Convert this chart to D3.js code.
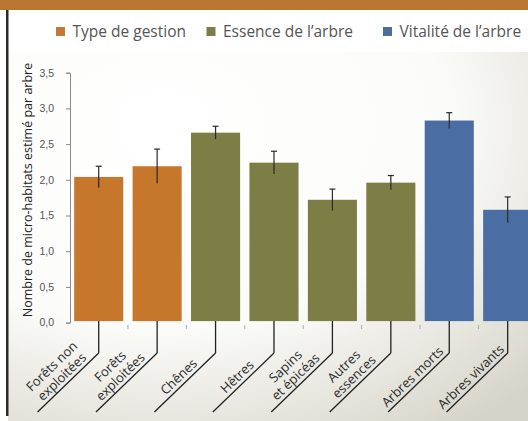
<!DOCTYPE html>
<html><head><meta charset="utf-8">
<script src="https://cdn.jsdelivr.net/npm/d3@7"></script>
<style>body{margin:0;background:#fff}svg{display:block}</style>
</head><body>
<script>
const categories = [["Forêts non","exploitées"],["Forêts","exploitées"],["Chênes"],["Hêtres"],["Sapins","et épicéas"],["Autres","essences"],["Arbres morts"],["Arbres vivants"]];
const groups = ["gestion","gestion","essence","essence","essence","essence","vitalite","vitalite"];
const values = [2.04, 2.19, 2.66, 2.24, 1.72, 1.96, 2.83, 1.58];
const errors = [0.15, 0.24, 0.09, 0.16, 0.15, 0.10, 0.11, 0.18];
const legendKeys = ["gestion","essence","vitalite"];
const legendLabels = ["Type de gestion","Essence de l’arbre","Vitalité de l’arbre"];
const yTicks = [0,0.5,1,1.5,2,2.5,3,3.5];
const yTitle = "Nombre de micro-habitats estimé par arbre";

const W=528,H=421;
const svg=d3.select("body").append("svg").attr("width",W).attr("height",H);
const defs=svg.append("defs");
const rg=defs.append("radialGradient").attr("id","bg").attr("cx","0.3").attr("cy","0.2").attr("r","1.0");
rg.append("stop").attr("offset","0").attr("stop-color","#ffffff");
rg.append("stop").attr("offset","0.55").attr("stop-color","#fbfbf9");
rg.append("stop").attr("offset","1").attr("stop-color","#d6d4c9");

svg.append("rect").attr("x",0).attr("y",0).attr("width",W).attr("height",H).attr("fill","#fff");
svg.append("rect").attr("x",8).attr("y",52).attr("width",W-8).attr("height",H-52).attr("fill","url(#bg)");
svg.append("rect").attr("x",0).attr("y",0).attr("width",W).attr("height",10).attr("fill","#b97532");
svg.append("rect").attr("x",6).attr("y",10).attr("width",2.5).attr("height",406).attr("fill","#2b2b2b");

const color=d3.scaleOrdinal().domain(legendKeys).range(["#c7772c","#7d7e45","#4a6ea3"]);
const legendColor=d3.scaleOrdinal().domain(legendKeys).range(["#c17a3a","#7c7d47","#4b6d9b"]);

// legend
const legX=[56,206.5,383];
const lg=svg.append("g").attr("font-family","'Open Sans', sans-serif").attr("font-size",15.5).attr("fill","#555");
legendKeys.forEach((k,i)=>{
  lg.append("rect").attr("x",legX[i]).attr("y",27).attr("width",9).attr("height",9).attr("fill",legendColor(k));
  lg.append("text").attr("x",legX[i]+16.5).attr("y",36.5).text(legendLabels[i]);
});

const x=d3.scaleBand().domain(d3.range(categories.length)).range([69.5,536.9]).paddingInner(0.16).paddingOuter(0.08);
const y=d3.scaleLinear().domain([0,3.5]).range([322.6,72.7]);

// y axis
const ya=svg.append("g").attr("transform","translate(70,0)")
  .call(d3.axisLeft(y).tickValues(yTicks).tickSize(4).tickPadding(12).tickFormat(d=>d3.format(".1f")(d).replace(".",",")));
ya.select(".domain").attr("stroke","#8a8a8a");
ya.selectAll(".tick line").attr("stroke","#8a8a8a");
ya.selectAll("text").attr("font-family","'Liberation Sans', Arial, sans-serif").attr("font-size",10.5).attr("fill","#555");

svg.append("text").attr("transform","translate(31.5,190) rotate(-90)").attr("text-anchor","middle")
  .attr("font-family","'Open Sans', sans-serif").attr("font-size",12.5).attr("font-weight",500).attr("fill","#222").text(yTitle);

// band boundary ticks
const bounds=d3.range(1,categories.length).map(i=>x(i)-x.step()*x.paddingInner()/2);
svg.append("g").selectAll("line").data(bounds).join("line")
  .attr("x1",d=>d).attr("x2",d=>d).attr("y1",325).attr("y2",329).attr("stroke","#aaa").attr("stroke-width",1);

// bars
svg.append("g").selectAll("rect").data(values).join("rect")
  .attr("x",(d,i)=>x(i)).attr("width",x.bandwidth())
  .attr("y",d=>y(d)).attr("height",d=>y(0)-y(d)-1.5)
  .attr("fill",(d,i)=>color(groups[i]));

// error bars
const eg=svg.append("g").attr("stroke","#2a2a2a").attr("stroke-width",1.2);
values.forEach((v,i)=>{
  const cx=x(i)+x.bandwidth()/2;
  eg.append("line").attr("x1",cx).attr("x2",cx).attr("y1",y(v+errors[i])).attr("y2",y(v-errors[i]));
  eg.append("line").attr("x1",cx-3).attr("x2",cx+3).attr("y1",y(v+errors[i])).attr("y2",y(v+errors[i]));
});

// category labels with leader lines
const ang=-44;
const lab=svg.append("g");
categories.forEach((c,i)=>{
  const cx=x(i)+x.bandwidth()/2;
  const cy=353;
  lab.append("line").attr("x1",cx).attr("x2",cx).attr("y1",321).attr("y2",cy).attr("stroke","#222").attr("stroke-width",1.3);
  const g=lab.append("g").attr("transform",`translate(${cx},${cy}) rotate(${ang})`);
  g.append("line").attr("x1",0).attr("x2",-85).attr("y1",0).attr("y2",0).attr("stroke","#222").attr("stroke-width",1.3);
  const t=g.append("text").attr("text-anchor","middle").attr("font-family","'Open Sans', sans-serif")
    .attr("font-size",13).attr("font-weight",500).attr("fill","#2a2a2a");
  c.forEach((line,j)=>{
    t.append("tspan").attr("x",-43).attr("y",-4-(c.length-1-j)*14.5).text(line);
  });
});
</script>
</body></html>
